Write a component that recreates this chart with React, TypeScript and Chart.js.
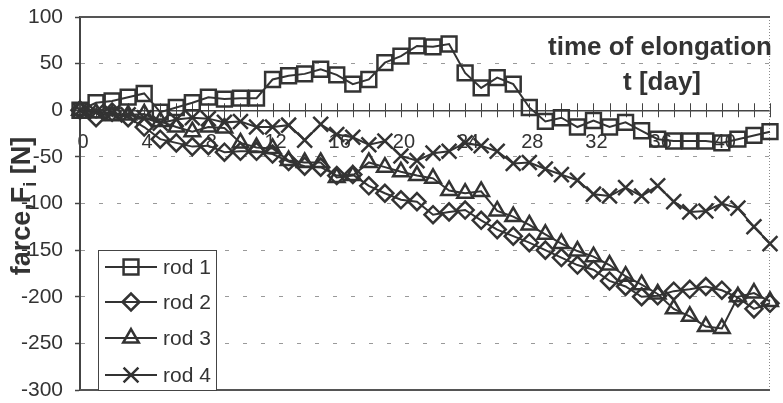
import React, { useEffect, useRef } from 'react';
import { Chart, registerables } from 'chart.js';
import { drawPoint } from 'chart.js/helpers';

Chart.register(...registerables);

// ---------- data ----------
const days = [0, 1, 2, 3, 4, 5, 6, 7, 8, 9, 10, 11, 12, 13, 14, 15, 16, 17, 18, 19, 20, 21, 22, 23, 24, 25, 26, 27, 28, 29, 30, 31, 32, 33, 34, 35, 36, 37, 38, 39, 40, 41, 42, 43];
const xLabelDays = [0, 4, 8, 12, 16, 20, 24, 28, 32, 36, 40];
const yTicks = [100, 50, 0, -50, -100, -150, -200, -250, -300];
const seriesLabels = ['rod 1', 'rod 2', 'rod 3', 'rod 4'];

const rod1 = [0, 8, 10, 14, 18, -2, 3, 8, 14, 12, 13, 13, 33, 37, 39, 44, 38, 28, 33, 51, 58, 69, 68, 71, 40, 24, 35, 28, 3, -12, -8, -18, -11, -18, -13, -22, -31, -33, -33, -33, -35, -31, -27, -23];
const rod2 = [0, -8, -2, -8, -18, -31, -35, -39, -38, -45, -44, -44, -47, -55, -60, -61, -70, -69, -81, -89, -96, -98, -112, -109, -107, -118, -128, -135, -142, -150, -158, -166, -171, -183, -189, -200, -199, -194, -192, -189, -193, -201, -213, -207];
const rod3 = [0, -3, -6, -5, -4, -12, -18, -23, -18, -19, -35, -40, -41, -54, -56, -56, -72, -70, -56, -61, -66, -70, -73, -86, -89, -87, -108, -114, -123, -133, -143, -151, -157, -166, -178, -187, -197, -213, -221, -232, -234, -200, -196, -205];
const rod4 = [0, -2, -3, -5, -8, -14, -10, -8, -9, -13, -12, -18, -18, -16, -32, -15, -26, -29, -37, -33, -49, -54, -46, -44, -35, -38, -44, -57, -56, -63, -69, -75, -90, -92, -83, -92, -81, -98, -109, -108, -100, -105, -125, -143];

const seriesValues = [rod1, rod2, rod3, rod4];
const markerStyles = ['rect', 'rectRot', 'triangle', 'crossRot'];
const markerRadii = [10.5, 8.5, 9, 10.5];

// ---------- styling ----------
const FONT = "'Liberation Sans', Arial, Helvetica, sans-serif";
const INK = '#333333';

const decorPlugin = {
  id: 'decor',
  beforeDatasetsDraw(chart: any) {
    const { ctx, chartArea: a, scales } = chart;
    const x = scales.x;
    const y = scales.y;
    ctx.save();
    // right dotted border
    ctx.strokeStyle = '#8a8a8a';
    ctx.lineWidth = 1;
    ctx.setLineDash([1, 2]);
    ctx.beginPath();
    ctx.moveTo(a.right - 0.5, a.top);
    ctx.lineTo(a.right - 0.5, a.bottom);
    ctx.stroke();
    ctx.setLineDash([]);
    // top and bottom frame
    ctx.strokeStyle = '#555';
    ctx.lineWidth = 2;
    const yTop = y.getPixelForValue(yTicks[0]);
    const yBot = y.getPixelForValue(yTicks[yTicks.length - 1]);
    ctx.beginPath();
    ctx.moveTo(a.left, yTop);
    ctx.lineTo(a.right, yTop);
    ctx.moveTo(a.left, yBot);
    ctx.lineTo(a.right, yBot);
    ctx.stroke();
    // crossing tick marks on the zero axis
    const y0 = y.getPixelForValue(0);
    ctx.strokeStyle = '#444';
    ctx.lineWidth = 1;
    ctx.beginPath();
    for (const d of days) {
      const px = Math.round(x.getPixelForValue(d)) + 0.5;
      ctx.moveTo(px, y0 - 7);
      ctx.lineTo(px, y0 + 7);
    }
    ctx.stroke();
    ctx.restore();
  },
  afterDatasetsDraw(chart: any) {
    const { ctx } = chart;
    ctx.save();
    // annotation
    ctx.fillStyle = '#333';
    ctx.textAlign = 'center';
    ctx.textBaseline = 'alphabetic';
    ctx.font = `bold 26px ${FONT}`;
    ctx.fillText('time of elongation', 660, 55);
    ctx.fillText('t [day]', 662, 90);

    // y-axis title with subscript
    ctx.save();
    ctx.translate(30, 206);
    ctx.rotate(-Math.PI / 2);
    ctx.textAlign = 'left';
    const mainFont = `bold 27px ${FONT}`;
    const subFont = `bold 18px ${FONT}`;
    ctx.font = mainFont;
    const p1 = 'farce,F';
    const p3 = ' [N]';
    const w1 = ctx.measureText(p1).width;
    const w3 = ctx.measureText(p3).width;
    ctx.font = subFont;
    const p2 = 'i';
    const w2 = ctx.measureText(p2).width;
    let sx = -(w1 + w2 + w3) / 2;
    ctx.font = mainFont;
    ctx.fillText(p1, sx, 0);
    sx += w1;
    ctx.font = subFont;
    ctx.fillText(p2, sx, 6);
    sx += w2;
    ctx.font = mainFont;
    ctx.fillText(p3, sx, 0);
    ctx.restore();

    // legend
    const bx = 98.5, by = 250.5, bw = 118, bh = 140;
    ctx.fillStyle = '#fff';
    ctx.fillRect(bx, by, bw, bh);
    ctx.strokeStyle = '#444';
    ctx.lineWidth = 1;
    ctx.strokeRect(bx, by, bw, bh);
    const rowY = [267, 302, 338, 375];
    chart.data.datasets.forEach((ds: any, i: number) => {
      const ry = rowY[i];
      ctx.strokeStyle = INK;
      ctx.lineWidth = 2;
      ctx.beginPath();
      ctx.moveTo(105, ry);
      ctx.lineTo(157, ry);
      ctx.stroke();
      ctx.fillStyle = 'rgba(0,0,0,0)';
      ctx.lineWidth = 2.5;
      drawPoint(ctx, { pointStyle: ds.pointStyle, radius: ds.pointRadius, borderWidth: 2.5, rotation: 0 } as any, 131, ry);
      ctx.fillStyle = '#333';
      ctx.font = `21px ${FONT}`;
      ctx.textAlign = 'left';
      ctx.textBaseline = 'middle';
      ctx.fillText(ds.label, 163, ry + 1);
    });
    ctx.restore();
  },
};

export default function App() {
  const canvasRef = useRef<HTMLCanvasElement | null>(null);

  useEffect(() => {
    if (!canvasRef.current) return;
    Chart.defaults.font.family = FONT;
    const datasets = seriesLabels.map((label, i) => ({
      label,
      data: seriesValues[i].map((v, j) => ({ x: days[j], y: v })),
      borderColor: INK,
      borderWidth: 2,
      pointStyle: markerStyles[i],
      pointRadius: markerRadii[i],
      pointBorderWidth: 2.5,
      pointBorderColor: INK,
      pointBackgroundColor: 'rgba(0,0,0,0)',
      tension: 0,
      fill: false,
      clip: false as any,
    }));

    const chart = new Chart(canvasRef.current, {
      type: 'line',
      data: { datasets } as any,
      plugins: [decorPlugin],
      options: {
        animation: false,
        responsive: false,
        devicePixelRatio: 1,
        layout: { padding: { top: 17, right: 1, bottom: 10, left: 0 } },
        plugins: { legend: { display: false }, tooltip: { enabled: false }, title: { display: false } },
        scales: {
          x: {
            type: 'linear',
            min: days[0],
            max: days[days.length - 1],
            position: { y: 0 } as any,
            afterBuildTicks: (s: any) => {
              s.ticks = xLabelDays.map((v) => ({ value: v }));
            },
            afterFit: (s: any) => {
              s.paddingLeft = 0;
              s.paddingRight = 0;
            },
            grid: { display: false, drawTicks: false },
            border: { display: true, color: '#444', width: 1.5 },
            ticks: {
              autoSkip: false,
              maxRotation: 0,
              padding: 20,
              labelOffset: 3,
              color: '#333',
              font: { family: FONT, size: 20 },
              callback: (v: any) => String(v),
            },
          },
          y: {
            type: 'linear',
            min: yTicks[yTicks.length - 1],
            max: yTicks[0],
            position: 'left',
            afterBuildTicks: (s: any) => {
              s.ticks = yTicks.map((v) => ({ value: v }));
            },
            afterFit: (s: any) => {
              s.width = 80;
              s.paddingTop = 0;
              s.paddingBottom = 0;
            },
            grid: {
              color: (c: any) => {
                const v = c.tick ? c.tick.value : null;
                return v === 0 || v === 100 || v === -300 ? 'rgba(0,0,0,0)' : '#9a9a9a';
              },
              lineWidth: 1,
              drawTicks: true,
              tickLength: 5,
              tickColor: '#444',
              tickWidth: 1.5,
              tickBorderDash: [],
            },
            border: { display: true, color: '#444', width: 2, dash: [4, 14] },
            ticks: {
              padding: 12,
              color: '#333',
              font: { family: FONT, size: 21 },
              callback: (v: any) => String(v),
            },
          },
        },
      } as any,
    });
    return () => chart.destroy();
  }, []);

  return (
    <div style={{ position: 'fixed', left: 0, top: 0, width: 783, height: 403, background: '#fff', overflow: 'hidden' }}>
      <canvas ref={canvasRef} width={783} height={403} style={{ display: 'block' }} />
    </div>
  );
}
